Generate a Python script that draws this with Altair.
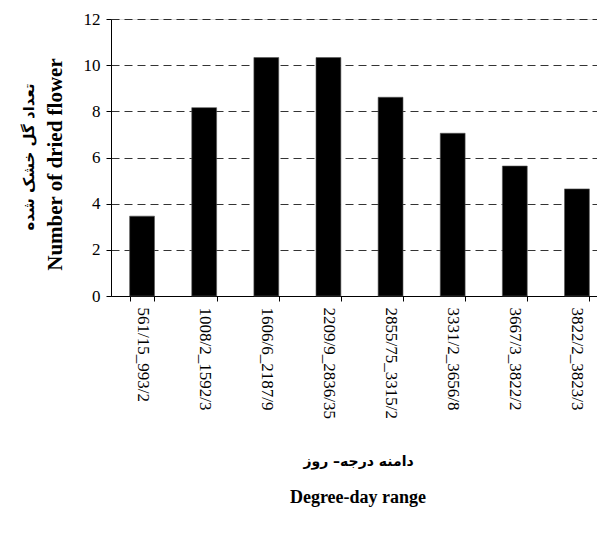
import altair as alt
import pandas as pd

categories = ["561/15_993/2", "1008/2_1592/3", "1606/6_2187/9", "2209/9_2836/35",
              "2855/75_3315/2", "3331/2_3656/8", "3667/3_3822/2", "3822/2_3823/3"]
values = [3.46, 8.16, 10.33, 10.33, 8.61, 7.05, 5.63, 4.64]
y_ticks = [0, 2, 4, 6, 8, 10, 12]

y_title_en = "Number of dried flower"
y_title_fa = "تعداد گل خشک شده"
x_title_fa = "دامنه درجه– روز"
x_title_en = "Degree-day range"

df = pd.DataFrame({"range": categories, "count": values})

W, H = 497, 277
SERIF = "'Liberation Serif', 'Times New Roman', serif"

bars = alt.Chart(df).mark_bar(color="black", stroke="#555555", strokeWidth=0.6).encode(
    x=alt.X("range:N", sort=categories,
            scale=alt.Scale(paddingInner=0.6, paddingOuter=0.3),
            axis=alt.Axis(title=x_title_fa, labelAngle=90, labelFont=SERIF, labelFontSize=17,
                          labelColor="black", labelPadding=6, tickBand="extent",
                          tickColor="black", tickSize=5, domainColor="black",
                          titleFont="DejaVu Sans", titleFontSize=14, titleFontWeight="bold",
                          titleColor="black", titleY=165, titleX=247, titleBaseline="middle")),
    y=alt.Y("count:Q", scale=alt.Scale(domain=[0, 12]),
            axis=alt.Axis(title=y_title_en, values=y_ticks, labelFont=SERIF, labelFontSize=17,
                          labelColor="black", labelPadding=6, tickColor="black", tickSize=5,
                          domainColor="black", grid=True, gridColor="black",
                          gridDash=[8, 5], gridWidth=0.8,
                          titleFont=SERIF, titleFontSize=21, titleFontWeight="bold",
                          titleColor="black", titleX=-56, titleY=145, titleAngle=-90,
                          titleBaseline="middle")),
)

fa_y = alt.Chart(pd.DataFrame({"t": [y_title_fa]})).mark_text(
    font="DejaVu Sans", fontSize=15, fontWeight="bold", angle=270,
    baseline="middle", align="center", color="black"
).encode(text="t:N", x=alt.value(-82), y=alt.value(138))

en_x = alt.Chart(pd.DataFrame({"t": [x_title_en]})).mark_text(
    font=SERIF, fontSize=18, fontWeight="bold",
    baseline="middle", align="center", color="black"
).encode(text="t:N", x=alt.value(247), y=alt.value(479))

chart = alt.layer(bars, fa_y, en_x).properties(
    width=W, height=H,
    autosize=alt.AutoSizeParams(type="none"),
    padding={"left": 103, "top": 11, "right": -11, "bottom": 225},
).configure_view(stroke=None).configure(background="white")

chart.save("out.html", embed_options={"renderer": "svg", "actions": False})
